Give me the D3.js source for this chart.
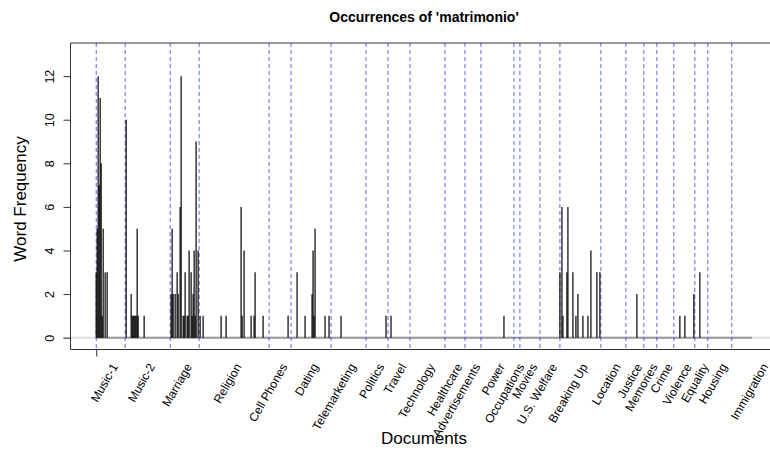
<!DOCTYPE html>
<html>
<head>
<meta charset="utf-8">
<script src="https://cdn.jsdelivr.net/npm/d3@7"></script>
<style>
  body { margin: 0; background: #fff; }
  svg { font-family: "Liberation Sans", Arial, Helvetica, sans-serif; }
</style>
</head>
<body>
<div id="chart"></div>
<script>
// document groups: name and index of the first document in each group
const groupNames = ["Music-1", "Music-2", "Marriage", "Religion", "Cell Phones", "Dating",
  "Telemarketing", "Politics", "Travel", "Technology", "Healthcare", "Advertisements",
  "Power", "Occupations", "Movies", "U.S. Welfare", "Breaking Up", "Location", "Justice",
  "Memories", "Crime", "Violence", "Equality", "Housing", "Immigration"];
const groupStarts = [0, 29, 74, 103, 173, 195, 235, 270, 292, 314, 349, 369, 385, 418,
  424, 444, 464, 505, 530, 548, 561, 578, 599, 612, 636];
const lastDoc = 656;
const labelEnd = 694;

// non-zero word counts: document index -> frequency
const docIndex = [0, 1, 2, 3, 4, 5, 6, 7, 9, 11,
  30, 35, 36, 37, 38, 39, 40, 41, 42, 48,
  75, 76, 77, 79, 81, 82, 84, 85, 87, 88, 89, 91, 92, 93, 95, 96, 97, 98, 99, 100, 102, 104, 107,
  125, 130, 145, 146, 148, 155, 158, 159, 167,
  192,
  201, 209, 216, 217, 218, 219, 229, 233,
  245,
  290,
  295,
  408,
  464, 466, 467, 471, 472, 477, 480, 482, 487, 492, 495, 501, 504,
  541,
  584, 589, 598,
  604];
const freq = [3, 5, 12, 7, 11, 8, 1, 5, 3, 3,
  10, 2, 1, 1, 1, 1, 1, 5, 1, 1,
  2, 5, 2, 2, 3, 2, 6, 12, 1, 1, 3, 1, 1, 4, 3, 1, 2, 4, 1, 9, 4, 1, 1,
  1, 1, 6, 1, 4, 1, 1, 3, 1,
  1,
  3, 1, 2, 4, 1, 5, 1, 1,
  1,
  1,
  1,
  1,
  3, 6, 1, 3, 6, 3, 1, 2, 1, 1, 4, 3, 3,
  2,
  1, 1, 2,
  3];

const yTicks = [0, 2, 4, 6, 8, 10, 12];
const xTicks = [0];

const width = 770, height = 450;
const margin = { top: 43, right: -8, bottom: 101, left: 70 };
const plotRight = width - margin.right;
const plotBottom = height - margin.bottom;

const svg = d3.select("#chart")
  .append("svg")
  .attr("width", width)
  .attr("height", height);

// R style 4% padding on both axes
const x = d3.scaleLinear()
  .domain([-0.04 * lastDoc, lastDoc * 1.04])
  .range([margin.left, plotRight]);
const y = d3.scaleLinear()
  .domain([-0.52, 13.52])
  .range([plotBottom, margin.top]);

// baseline
svg.append("line")
  .attr("x1", 63).attr("x2", width)
  .attr("y1", y(0)).attr("y2", y(0))
  .attr("stroke", "#dcdcdc")
  .attr("stroke-width", 2);
svg.append("line")
  .attr("x1", x(0)).attr("x2", x(lastDoc))
  .attr("y1", y(0)).attr("y2", y(0))
  .attr("stroke", "#9a9a9a")
  .attr("stroke-width", 2);

// group separators
svg.selectAll(".sep")
  .data(groupStarts)
  .join("line")
  .attr("class", "sep")
  .attr("x1", d => x(d)).attr("x2", d => x(d))
  .attr("y1", margin.top).attr("y2", plotBottom)
  .attr("stroke", "#2b2bff")
  .attr("stroke-opacity", 0.75)
  .attr("stroke-width", 1)
  .attr("stroke-dasharray", "4,3");

// bars (type = "h")
const counts = docIndex.map((d, i) => ({ doc: d, value: freq[i] }));
svg.selectAll(".bar")
  .data(counts)
  .join("line")
  .attr("class", "bar")
  .attr("x1", d => x(d.doc)).attr("x2", d => x(d.doc))
  .attr("y1", y(0)).attr("y2", d => y(d.value))
  .attr("stroke", "#000")
  .attr("stroke-opacity", 0.75)
  .attr("stroke-width", 1.6);

// box
svg.append("path")
  .attr("d", `M${plotRight},43 H70.5 V349.5 H${plotRight}`)
  .attr("fill", "none")
  .attr("stroke", "#333")
  .attr("stroke-width", 1);

// y axis
const yAxis = svg.append("g")
  .attr("transform", "translate(70.5,0)")
  .call(d3.axisLeft(y).tickValues(yTicks).tickSize(7).tickPadding(0));
yAxis.select(".domain").remove();
yAxis.selectAll("line").attr("stroke", "#333");
yAxis.selectAll("text")
  .attr("x", 0).attr("dy", null)
  .attr("transform", "translate(-17,0) rotate(-90)")
  .attr("text-anchor", "middle")
  .attr("font-size", 12.5)
  .attr("font-family", null)
  .attr("fill", "#000");

// x axis: single tick at the first document
const xAxis = svg.append("g")
  .attr("transform", "translate(0,349.5)")
  .call(d3.axisBottom(x).tickValues(xTicks).tickSize(7).tickFormat(""));
xAxis.select(".domain").remove();
xAxis.selectAll("line").attr("stroke", "#333");

// group labels at group midpoints
const groupEnds = groupStarts.slice(1).concat([labelEnd]);
svg.selectAll(".grp")
  .data(groupNames)
  .join("text")
  .attr("class", "grp")
  .attr("transform", (d, i) => `translate(${x((groupStarts[i] + groupEnds[i]) / 2) + 5},365) rotate(-60)`)
  .attr("text-anchor", "end")
  .attr("dominant-baseline", "middle")
  .attr("font-size", 12)
  .text(d => d);

// titles
svg.append("text")
  .attr("x", (margin.left + plotRight) / 2).attr("y", 22)
  .attr("text-anchor", "middle")
  .attr("font-weight", "bold")
  .attr("font-size", 14)
  .text("Occurrences of 'matrimonio'");
svg.append("text")
  .attr("x", (margin.left + plotRight) / 2).attr("y", 444)
  .attr("text-anchor", "middle")
  .attr("font-size", 17)
  .text("Documents");
svg.append("text")
  .attr("transform", "translate(25.5,199) rotate(-90)")
  .attr("text-anchor", "middle")
  .attr("font-size", 17)
  .text("Word Frequency");
</script>
</body>
</html>
